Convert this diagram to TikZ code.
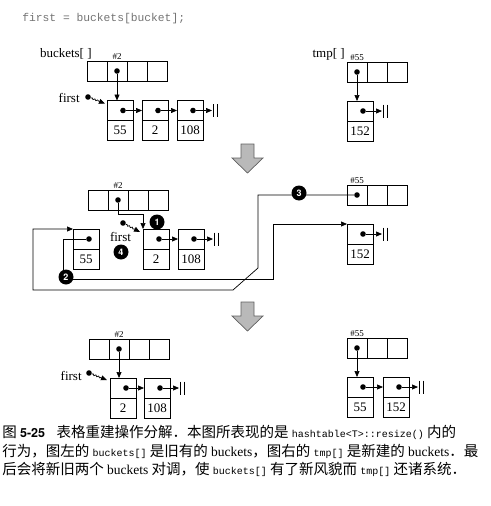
\documentclass[tikz,border=0pt]{standalone}
\usepackage{fontspec}
\setmainfont{Liberation Serif}
\setmonofont{Liberation Mono}
\newfontfamily\cjk{Noto Sans CJK SC}
\newfontfamily\heros{TeX Gyre Heros}
\usetikzlibrary{arrows.meta,decorations.pathmorphing,positioning}
\newcommand{\cmono}[1]{{\ttfamily\fontsize{10}{10}\selectfont #1}}
\newcommand{\cword}[1]{{\rmfamily\fontsize{13.5}{13.5}\selectfont #1}}
\newcommand{\nilbars}[1]{\draw ([xshift=1pt]#1) ++(0,-0.65) -- ++(0,1.3) ([xshift=5pt]#1) ++(0,-0.65) -- ++(0,1.3);}
\tikzset{
  cell/.style={draw, minimum width=20pt, minimum height=20pt, inner sep=0pt, outer sep=0pt},
  ptr/.style={draw, minimum width=26pt, minimum height=20pt, inner sep=0pt, outer sep=0pt},
  val/.style={ptr, font=\fontsize{13}{13}\selectfont},
  dot/.style={circle, fill, inner sep=0pt, minimum size=5.6pt},
  link/.style={-{Triangle[length=6pt,width=5pt]}},
  wavy/.style={link, decorate, decoration={snake, amplitude=0.7pt, segment length=3pt, post length=6pt}},
  badge/.style={circle, fill=black, text=white, inner sep=0pt, minimum size=15pt, font=\heros\bfseries\fontsize{9}{9}\selectfont},
  lbl/.style={inner sep=0pt, font=\fontsize{13}{13}\selectfont},
  idx/.style={inner sep=0pt, font=\fontsize{9}{9}\selectfont},
  bigarrow/.style={fill=gray!55, draw=gray!75!black},
  capline/.style={anchor=base west, inner sep=0pt, font=\cjk\fontsize{14.5}{14.5}\selectfont},
}

\begin{document}
\begin{tikzpicture}[x=10pt, y=-10pt, line width=0.7pt]
  \useasboundingbox (0,0) rectangle (49,50.6);
  % code line
  \node[anchor=base west, inner sep=0pt, text=black!55, font=\ttfamily\fontsize{11.3}{11.3}\selectfont] (code) at (2.2,2.1) {first = buckets[bucket];};

  % ---- top: before ----
  \node[lbl, anchor=base east] (A-name) at (9.2,5.7) {buckets[ ]};
  \foreach \i in {1,...,4}
    \node[cell] (A-bk\i) at (7.7+2*\i,7.1) {};
  \node[idx, above=1pt of A-bk2] (A-h2) {\#2};
  \node[dot] (A-d0) at (A-bk2) {};
  \node[ptr] (A-p55) at (12.0,11.05) {};
  \node[val, below=0pt of A-p55] (A-v55) {55};
  \node[ptr, right=9pt of A-p55] (A-p2) {};
  \node[val, below=0pt of A-p2] (A-v2) {2};
  \node[ptr, right=9pt of A-p2] (A-p108) {};
  \node[val, below=0pt of A-p108] (A-v108) {108};
  \foreach \n in {55,2,108}
    \node[dot] (A-d\n) at ([xshift=3pt]A-p\n.center) {};
  \coordinate[right=9pt of A-p108] (A-nil);
  \draw[link] (A-d0) -- (A-d0 |- A-p55.north);
  \draw[link] (A-d55) -- (A-p2);
  \draw[link] (A-d2) -- (A-p108);
  \draw[link] (A-d108) -- (A-nil);
  \nilbars{A-nil}
  \node[lbl, anchor=base east] (A-first) at (8.0,10.2) {first};
  \node[dot] (A-fd) at (8.8,9.7) {};
  \draw[wavy] (A-fd) -- ([shift={(-2pt,-3pt)}]A-p55.north west);

  \node[lbl, anchor=base east] (A-tname) at (34.5,5.7) {tmp[ ]};
  \foreach \i in {1,2,3}
    \node[cell] (A-tp\i) at (33.7+2*\i,7.2) {};
  \node[idx, above=1pt of A-tp1] (A-h55) {\#55};
  \node[dot] (A-t0) at (A-tp1) {};
  \node[ptr] (A-p152) at (36.0,11.1) {};
  \node[val, below=0pt of A-p152] (A-v152) {152};
  \node[dot] (A-d152) at ([xshift=3pt]A-p152.center) {};
  \coordinate[right=9pt of A-p152] (A-nil2);
  \draw[link] (A-t0) -- (A-t0 |- A-p152.north);
  \draw[link] (A-d152) -- (A-nil2);
  \nilbars{A-nil2}

  \filldraw[bigarrow] (24.1,14.4) -- (25.4,14.4) -- (25.4,15.8) -- (26.3,15.8) -- (24.75,17.3) -- (23.2,15.8) -- (24.1,15.8) -- cycle;

  % ---- middle: moving nodes ----
  \foreach \i in {1,...,4}
    \node[cell] (B-bk\i) at (7.8+2*\i,20.0) {};
  \node[idx, above=1pt of B-bk2] (B-h2) {\#2};
  \node[dot] (B-d0) at (B-bk2) {};
  \node[ptr] (B-p55) at (8.6,23.9) {};
  \node[val, below=0pt of B-p55] (B-v55) {55};
  \node[ptr] (B-p2) at (15.6,23.9) {};
  \node[val, below=0pt of B-p2] (B-v2) {2};
  \node[ptr, right=9pt of B-p2] (B-p108) {};
  \node[val, below=0pt of B-p108] (B-v108) {108};
  \foreach \n in {55,2,108}
    \node[dot] (B-d\n) at ([xshift=3pt]B-p\n.center) {};
  \coordinate[right=9pt of B-p108] (B-nil);
  \draw[link] (B-d2) -- (B-p108);
  \draw[link] (B-d108) -- (B-nil);
  \nilbars{B-nil}
  \node[lbl, anchor=base] (B-first) at (12.05,24.1) {first};
  \node[dot] (B-fd) at (12.3,22.3) {};
  \draw[wavy] (B-fd) -- ([shift={(-3pt,-3pt)}]B-p2.north west);

  \foreach \i in {1,2,3}
    \node[cell] (B-tp\i) at (33.7+2*\i,19.5) {};
  \node[idx, above=1pt of B-tp1] (B-h55) {\#55};
  \node[dot] (B-t0) at (B-tp1) {};
  \node[ptr] (B-p152) at (36.0,23.4) {};
  \node[val, below=0pt of B-p152] (B-v152) {152};
  \node[dot] (B-d152) at ([xshift=3pt]B-p152.center) {};
  \coordinate[right=9pt of B-p152] (B-nil2);
  \draw[link] (B-d152) -- (B-nil2);
  \nilbars{B-nil2}

  % the four steps
  \draw[link] (B-d0) -- ++(0,1.4) -| (B-p2.north west);
  \draw[link] (B-d55) -- ++(-2.6,0) -- ++(0,4.0) -- (27.3,27.9) |- (B-p152.north west);
  \draw[link] (B-t0) -- (25.8,19.5) -- (25.8,26.8) -- (23.3,29.0) -- (3.3,29.0) |- (B-p55.north west);
  \node[badge] (B-s1) at (15.7,22.2) {1};
  \node[badge] (B-s2) at (6.6,27.7) {2};
  \node[badge] (B-s3) at (29.9,19.3) {3};
  \node[badge] (B-s4) at (12.1,25.2) {4};

  \filldraw[bigarrow] (24.1,30.2) -- (25.4,30.2) -- (25.4,31.6) -- (26.3,31.6) -- (24.75,33.1) -- (23.2,31.6) -- (24.1,31.6) -- cycle;

  % ---- bottom: after ----
  \foreach \i in {1,...,4}
    \node[cell] (C-bk\i) at (7.9+2*\i,34.9) {};
  \node[idx, above=1pt of C-bk2] (C-h2) {\#2};
  \node[dot] (C-d0) at (C-bk2) {};
  \node[ptr] (C-p2) at (12.3,38.8) {};
  \node[val, below=0pt of C-p2] (C-v2) {2};
  \node[ptr, right=8pt of C-p2] (C-p108) {};
  \node[val, below=0pt of C-p108] (C-v108) {108};
  \foreach \n in {2,108}
    \node[dot] (C-d\n) at ([xshift=3pt]C-p\n.center) {};
  \coordinate[right=9pt of C-p108] (C-nil);
  \draw[link] (C-d0) -- (C-d0 |- C-p2.north);
  \draw[link] (C-d2) -- (C-p108);
  \draw[link] (C-d108) -- (C-nil);
  \nilbars{C-nil}
  \node[lbl, anchor=base east] (C-first) at (8.2,38.0) {first};
  \node[dot] (C-fd) at (8.9,37.3) {};
  \draw[wavy] (C-fd) -- ([shift={(-3pt,-2pt)}]C-p2.north west);

  \foreach \i in {1,2,3}
    \node[cell] (C-tp\i) at (33.7+2*\i,34.8) {};
  \node[idx, above=1pt of C-tp1] (C-h55) {\#55};
  \node[dot] (C-t0) at (C-tp1) {};
  \node[ptr] (C-p55) at (36.0,38.7) {};
  \node[val, below=0pt of C-p55] (C-v55) {55};
  \node[ptr, right=10pt of C-p55] (C-p152) {};
  \node[val, below=0pt of C-p152] (C-v152) {152};
  \foreach \n in {55,152}
    \node[dot] (C-d\n) at ([xshift=3pt]C-p\n.center) {};
  \coordinate[right=9pt of C-p152] (C-nil2);
  \draw[link] (C-t0) -- (C-t0 |- C-p55.north);
  \draw[link] (C-d55) -- (C-p152);
  \draw[link] (C-d152) -- (C-nil2);
  \nilbars{C-nil2}

  % caption
  \node[capline] (cap1) at (0.2,43.7) {图 {\heros\bfseries\fontsize{12.5}{12.5}\selectfont 5-25}\hspace{0.8em}表格重建操作分解．本图所表现的是 \cmono{hashtable<T>::resize()} 内的};
  \node[capline] (cap2) at (0.2,45.6) {行为，图左的 \cmono{buckets[]} 是旧有的 \cword{buckets}，图右的 \cmono{tmp[]} 是新建的 \cword{buckets}．最};
  \node[capline] (cap3) at (0.2,47.4) {后会将新旧两个 \cword{buckets} 对调，使 \cmono{buckets[]} 有了新风貌而 \cmono{tmp[]} 还诸系统．};
\end{tikzpicture}
\end{document}
